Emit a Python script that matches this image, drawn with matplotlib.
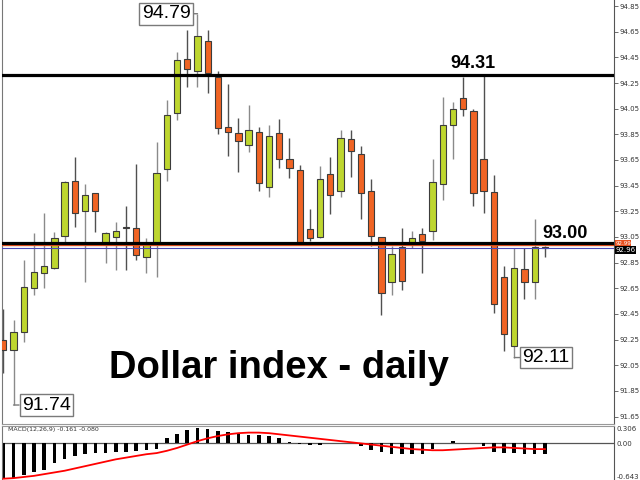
# -*- coding: utf-8 -*-
# Dollar index daily chart (MT4 style) with MACD panel

import numpy as np
import matplotlib.pyplot as plt

# %% Daten

opens = [92.25, 92.17, 92.31, 92.65, 92.77, 92.81, 93.06, 93.49, 93.25, 93.39,
         93.00, 93.05, 93.13, 93.12, 92.89, 93.00, 93.58, 94.02, 94.44, 94.34,
         94.58, 94.30, 93.91, 93.86, 93.77, 93.87, 93.44, 93.86, 93.66, 93.57,
         93.11, 93.05, 93.54, 93.41, 93.81, 93.70, 93.41, 93.05, 92.70, 92.97,
         93.00, 93.07, 93.10, 93.46, 93.92, 94.13, 94.03, 93.66, 93.40, 92.74,
         92.20, 92.80, 92.70, 92.97]
highs = [92.49, 92.40, 92.87, 93.08, 93.24, 93.09, 93.49, 93.67, 93.46, 93.39,
         93.09, 93.17, 93.29, 93.62, 93.04, 93.79, 94.12, 94.49, 94.66, 94.79,
         94.66, 94.34, 94.24, 93.98, 94.08, 93.91, 93.92, 93.97, 93.82, 93.61,
         93.27, 93.60, 93.67, 93.88, 93.88, 93.76, 93.50, 93.05, 92.98, 93.12,
         93.10, 93.12, 93.66, 94.14, 94.10, 94.30, 94.05, 94.31, 93.53, 92.82,
         92.96, 92.96, 93.19, 92.98]
lows = [91.99, 91.74, 92.23, 92.60, 92.65, 92.80, 93.01, 93.13, 92.70, 93.09,
        92.85, 92.79, 92.79, 92.87, 92.77, 92.74, 93.49, 93.96, 94.22, 94.22,
        94.17, 93.85, 93.68, 93.56, 93.71, 93.41, 93.36, 93.59, 93.51, 92.99,
        93.02, 93.04, 93.23, 93.36, 93.52, 93.19, 92.98, 92.44, 92.60, 92.64,
        92.96, 92.77, 93.03, 93.34, 93.66, 93.99, 93.29, 93.24, 92.46, 92.16,
        92.11, 92.57, 92.57, 92.89]
closes = [92.17, 92.31, 92.66, 92.78, 92.82, 93.04, 93.48, 93.24, 93.38, 93.25,
          93.08, 93.10, 93.12, 92.91, 93.00, 93.55, 94.00, 94.43, 94.36, 94.62,
          94.33, 93.90, 93.87, 93.80, 93.88, 93.47, 93.84, 93.66, 93.59, 93.00,
          93.04, 93.50, 93.38, 93.82, 93.72, 93.39, 93.06, 92.61, 92.92, 92.71,
          93.04, 93.02, 93.48, 93.92, 94.05, 94.05, 93.39, 93.41, 92.53, 92.29,
          92.81, 92.70, 92.97, 92.96]

# MACD Histogramm und Signallinie
macd_hist = [-0.61, -0.60, -0.55, -0.51, -0.47, -0.34, -0.28, -0.22, -0.19, -0.17,
             -0.16, -0.15, -0.15, -0.13, -0.12, -0.09, 0.09, 0.16, 0.24, 0.27,
             0.25, 0.22, 0.20, 0.19, 0.15, 0.15, 0.13, 0.10, 0.03, -0.01,
             -0.02, -0.02, 0.0, 0.0, 0.0, -0.05, -0.12, -0.15, -0.19, -0.19,
             -0.19, -0.19, -0.09, 0.0, 0.035, 0.012, 0.012, -0.05, -0.15, -0.175,
             -0.175, -0.19, -0.19, -0.19]
macd_signal = [-0.62, -0.61, -0.59, -0.57, -0.54, -0.51, -0.48, -0.44, -0.40, -0.36,
               -0.32, -0.28, -0.25, -0.22, -0.19, -0.17, -0.13, -0.08, -0.02, 0.04,
               0.09, 0.13, 0.16, 0.18, 0.19, 0.19, 0.18, 0.16, 0.14, 0.12,
               0.10, 0.08, 0.06, 0.04, 0.02, 0.0, -0.02, -0.04, -0.06, -0.08,
               -0.10, -0.11, -0.12, -0.12, -0.11, -0.10, -0.09, -0.08, -0.07, -0.07,
               -0.08, -0.09, -0.10, -0.10]

price_ticks = [94.85, 94.65, 94.45, 94.25, 94.05, 93.85, 93.65, 93.45, 93.25, 93.05,
               92.85, 92.65, 92.45, 92.25, 92.05, 91.85, 91.65]
level_high = 94.31
level_mid = 93.00
ask_price = 92.99
bid_price = 92.96
title_text = "Dollar index - daily"
macd_text = "MACD(12,26,9) -0.161 -0.080"

GREEN = "#BED62F"
ORANGE = "#F06424"

o = np.array(opens)
h = np.array(highs)
l = np.array(lows)
c = np.array(closes)
x = np.arange(len(o))

# %% Figur

fig = plt.figure(figsize=(6.4, 4.8), dpi=100)
ax1 = fig.add_axes([2/640, 56/480, 612/640, 424/480])
ax2 = fig.add_axes([2/640, 0, 612/640, 54/480])

# Kerzen
up = c >= o
wick_col = np.where(up, "#8a8a8a", "#505050")
ax1.vlines(x, l, h, colors=wick_col, linewidth=1, zorder=2)
body_col = np.where(up, GREEN, ORANGE)
ax1.bar(x, np.maximum(np.abs(c - o), 0.004), bottom=np.minimum(o, c), width=0.62,
        color=body_col, edgecolor="#3c3c3c", linewidth=0.8, zorder=3)

# Linien
ax1.axhline(level_high, color="black", linewidth=2.3, zorder=4)
ax1.axhline(ask_price, color="#E8501E", linewidth=1.0, zorder=4)
ax1.axhline(level_mid, color="black", linewidth=2.3, zorder=4)
ax1.axhline(bid_price, color="#4a4ab8", linewidth=0.8, zorder=4)

# Beschriftungen
ax1.text(46, level_high + 0.025, "%.2f" % level_high, ha="center", va="bottom",
         fontsize=13, fontweight="bold", family="Liberation Sans", zorder=5)
ax1.text(55, level_mid + 0.01, "%.2f" % level_mid, ha="center", va="bottom",
         fontsize=13, fontweight="bold", family="Liberation Sans", zorder=5)
ax1.text(27, 91.95, title_text, ha="center", va="baseline", fontsize=27.5,
         fontweight="bold", family="Liberation Sans", zorder=5)

box = dict(boxstyle="square,pad=0.12", fc="white", ec="#7a7a7a", lw=1)
arrow = dict(arrowstyle="-", color="#7a7a7a", lw=1, shrinkA=0, shrinkB=0)
ax1.annotate("%.2f" % h[19], xy=(19, h[19]), xytext=(-5, 0), textcoords="offset points",
             ha="right", va="center", fontsize=14, family="Liberation Sans",
             bbox=box, arrowprops=arrow, zorder=6)
ax1.annotate("%.2f" % l[1], xy=(1, l[1]), xytext=(6, 0), textcoords="offset points",
             ha="left", va="center", fontsize=14, family="Liberation Sans",
             bbox=box, arrowprops=arrow, zorder=6)
ax1.annotate("%.2f" % l[50], xy=(50, l[50]), xytext=(6, 0), textcoords="offset points",
             ha="left", va="center", fontsize=14, family="Liberation Sans",
             bbox=box, arrowprops=arrow, zorder=6)

# Preisschilder rechts
ax1.text(1.002, ask_price + 0.012, "%.2f" % ask_price, transform=ax1.get_yaxis_transform(),
         ha="left", va="center", fontsize=4, color="white",
         bbox=dict(boxstyle="square,pad=0.05", fc="#E8501E", ec="none"))
ax1.text(1.002, bid_price - 0.012, "%.2f" % bid_price, transform=ax1.get_yaxis_transform(),
         ha="left", va="center", fontsize=5, color="white",
         bbox=dict(boxstyle="square,pad=0.1", fc="black", ec="none"))

ax1.set_xlim(-0.13, 59.76)
ax1.set_ylim(91.592, 94.897)
ax1.yaxis.tick_right()
ax1.set_yticks(price_ticks)
ax1.set_yticklabels(["%.2f" % t for t in price_ticks])
ax1.tick_params(axis="y", labelsize=5, length=3, width=0.6, colors="#555555",
                labelcolor="#333333", pad=1)
ax1.set_xticks([])
ax1.spines["top"].set_visible(False)
ax1.spines["left"].set_color("#777777")
ax1.spines["bottom"].set_color("#999999")
ax1.spines["right"].set_color("#555555")

# %% MACD

ax2.bar(x, macd_hist, width=0.35, color="black", zorder=2)
ax2.plot(x, macd_signal, color="red", linewidth=1.3, zorder=3)
ax2.axhline(0, color="#555555", linewidth=0.9, zorder=1)
ax2.text(0.5, 0.297, macd_text, fontsize=4.5, color="#333333", ha="left", va="top")
ax2.set_xlim(-0.13, 59.76)
ax2.set_ylim(-0.643, 0.306)
ax2.yaxis.tick_right()
ax2.set_yticks([0.306, 0.0, -0.643])
ax2.set_yticklabels(["0.306", "0.00", "-0.643"])
ax2.tick_params(axis="y", labelsize=5, length=0, colors="#555555",
                labelcolor="#333333", pad=2)
lbls = ax2.get_yticklabels()
lbls[0].set_va("top")
lbls[2].set_va("bottom")
ax2.set_xticks([])
ax2.spines["bottom"].set_visible(False)
ax2.spines["left"].set_color("#777777")
ax2.spines["top"].set_color("#999999")
ax2.spines["right"].set_color("#555555")

plt.savefig("out.png", dpi=100)
